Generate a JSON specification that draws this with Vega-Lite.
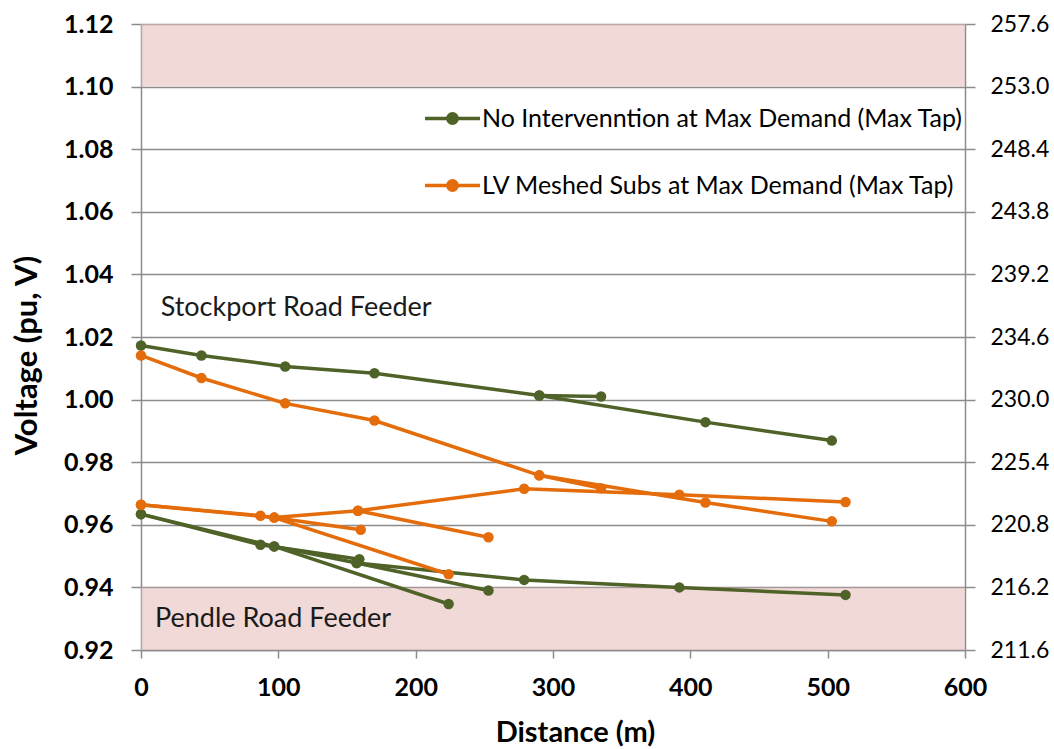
{
  "$schema": "https://vega.github.io/schema/vega-lite/v6.json",
  "width": 824,
  "height": 626,
  "autosize": {"type": "none"},
  "padding": {"left": 141, "top": 24, "right": 89, "bottom": 99},
  "background": "white",
  "config": {
    "view": {"stroke": null},
    "font": "Lato",
    "axis": {"labelFlush": false, "labelOverlap": false}
  },
  "datasets": {
    "bands": [
      {"lo": 1.10, "hi": 1.12},
      {"lo": 0.92, "hi": 0.94}
    ],
    "notes": [
      {"note": "Stockport Road Feeder"}
    ],
    "notes2": [
      {"note": "Pendle Road Feeder"}
    ],
    "lines": [
      {"series": "No Intervenntion at Max Demand (Max Tap)", "branch": "G1", "x": 0, "v": 1.0173},
      {"series": "No Intervenntion at Max Demand (Max Tap)", "branch": "G1", "x": 44, "v": 1.0141},
      {"series": "No Intervenntion at Max Demand (Max Tap)", "branch": "G1", "x": 105, "v": 1.0106},
      {"series": "No Intervenntion at Max Demand (Max Tap)", "branch": "G1", "x": 170, "v": 1.0084},
      {"series": "No Intervenntion at Max Demand (Max Tap)", "branch": "G1", "x": 290, "v": 1.0013},
      {"series": "No Intervenntion at Max Demand (Max Tap)", "branch": "G1", "x": 411, "v": 0.9928},
      {"series": "No Intervenntion at Max Demand (Max Tap)", "branch": "G1", "x": 503, "v": 0.9869},
      {"series": "No Intervenntion at Max Demand (Max Tap)", "branch": "G2", "x": 290, "v": 1.0013},
      {"series": "No Intervenntion at Max Demand (Max Tap)", "branch": "G2", "x": 335, "v": 1.0010},
      {"series": "No Intervenntion at Max Demand (Max Tap)", "branch": "G3", "x": 0, "v": 0.9634},
      {"series": "No Intervenntion at Max Demand (Max Tap)", "branch": "G3", "x": 87, "v": 0.9536},
      {"series": "No Intervenntion at Max Demand (Max Tap)", "branch": "G3", "x": 159, "v": 0.9490},
      {"series": "No Intervenntion at Max Demand (Max Tap)", "branch": "G4", "x": 0, "v": 0.9634},
      {"series": "No Intervenntion at Max Demand (Max Tap)", "branch": "G4", "x": 97, "v": 0.9531},
      {"series": "No Intervenntion at Max Demand (Max Tap)", "branch": "G4", "x": 157, "v": 0.9478},
      {"series": "No Intervenntion at Max Demand (Max Tap)", "branch": "G4", "x": 279, "v": 0.9424},
      {"series": "No Intervenntion at Max Demand (Max Tap)", "branch": "G4", "x": 392, "v": 0.9400},
      {"series": "No Intervenntion at Max Demand (Max Tap)", "branch": "G4", "x": 513, "v": 0.9376},
      {"series": "No Intervenntion at Max Demand (Max Tap)", "branch": "G5", "x": 97, "v": 0.9531},
      {"series": "No Intervenntion at Max Demand (Max Tap)", "branch": "G5", "x": 224, "v": 0.9347},
      {"series": "No Intervenntion at Max Demand (Max Tap)", "branch": "G6", "x": 157, "v": 0.9478},
      {"series": "No Intervenntion at Max Demand (Max Tap)", "branch": "G6", "x": 253, "v": 0.9390},
      {"series": "LV Meshed Subs at Max Demand (Max Tap)", "branch": "O1", "x": 0, "v": 1.0141},
      {"series": "LV Meshed Subs at Max Demand (Max Tap)", "branch": "O1", "x": 44, "v": 1.0069},
      {"series": "LV Meshed Subs at Max Demand (Max Tap)", "branch": "O1", "x": 105, "v": 0.9988},
      {"series": "LV Meshed Subs at Max Demand (Max Tap)", "branch": "O1", "x": 170, "v": 0.9933},
      {"series": "LV Meshed Subs at Max Demand (Max Tap)", "branch": "O1", "x": 290, "v": 0.9758},
      {"series": "LV Meshed Subs at Max Demand (Max Tap)", "branch": "O1", "x": 411, "v": 0.9671},
      {"series": "LV Meshed Subs at Max Demand (Max Tap)", "branch": "O1", "x": 503, "v": 0.9611},
      {"series": "LV Meshed Subs at Max Demand (Max Tap)", "branch": "O2", "x": 290, "v": 0.9758},
      {"series": "LV Meshed Subs at Max Demand (Max Tap)", "branch": "O2", "x": 335, "v": 0.9717},
      {"series": "LV Meshed Subs at Max Demand (Max Tap)", "branch": "O3", "x": 0, "v": 0.9664},
      {"series": "LV Meshed Subs at Max Demand (Max Tap)", "branch": "O3", "x": 87, "v": 0.9629},
      {"series": "LV Meshed Subs at Max Demand (Max Tap)", "branch": "O3", "x": 160, "v": 0.9584},
      {"series": "LV Meshed Subs at Max Demand (Max Tap)", "branch": "O4", "x": 0, "v": 0.9664},
      {"series": "LV Meshed Subs at Max Demand (Max Tap)", "branch": "O4", "x": 97, "v": 0.9623},
      {"series": "LV Meshed Subs at Max Demand (Max Tap)", "branch": "O4", "x": 158, "v": 0.9645},
      {"series": "LV Meshed Subs at Max Demand (Max Tap)", "branch": "O4", "x": 279, "v": 0.9715},
      {"series": "LV Meshed Subs at Max Demand (Max Tap)", "branch": "O4", "x": 392, "v": 0.9696},
      {"series": "LV Meshed Subs at Max Demand (Max Tap)", "branch": "O4", "x": 513, "v": 0.9673},
      {"series": "LV Meshed Subs at Max Demand (Max Tap)", "branch": "O5", "x": 97, "v": 0.9623},
      {"series": "LV Meshed Subs at Max Demand (Max Tap)", "branch": "O5", "x": 224, "v": 0.9442},
      {"series": "LV Meshed Subs at Max Demand (Max Tap)", "branch": "O6", "x": 158, "v": 0.9645},
      {"series": "LV Meshed Subs at Max Demand (Max Tap)", "branch": "O6", "x": 253, "v": 0.9560}
    ]
  },
  "layer": [
    {
      "data": {"name": "bands"},
      "mark": {"type": "rect", "fill": "#e6b9b8", "opacity": 0.55},
      "encoding": {
        "y": {
          "field": "lo", "type": "quantitative",
          "scale": {"domain": [0.92, 1.12], "zero": false, "nice": false},
          "axis": {
            "orient": "left",
            "values": [0.92, 0.94, 0.96, 0.98, 1.0, 1.02, 1.04, 1.06, 1.08, 1.1, 1.12],
            "format": ".2f",
            "labelFont": "Lato", "labelFontWeight": "bold", "labelFontSize": 25, "labelColor": "#000",
            "labelPadding": 18,
            "tickColor": "#8c8c8c", "tickSize": 10, "tickWidth": 1.5,
            "domainColor": "#8c8c8c", "domainWidth": 1.5,
            "grid": true, "gridColor": "#8c8c8c", "gridWidth": 1.5,
            "title": "Voltage (pu, V)",
            "titleFont": "Lato", "titleFontSize": 31, "titleFontWeight": "bold", "titleColor": "#000",
            "titleAngle": -90, "titleAlign": "center", "titleBaseline": "middle",
            "titleX": -114, "titleY": 331
          }
        },
        "y2": {"field": "hi"}
      }
    },
    {
      "data": {"name": "lines"},
      "transform": [{"filter": "datum.branch[0] == 'G'"}],
      "mark": {"type": "line", "strokeWidth": 3.5, "point": {"filled": true, "size": 110}},
      "encoding": {
        "x": {
          "field": "x", "type": "quantitative",
          "scale": {"domain": [0, 600], "nice": false, "zero": false},
          "axis": {
            "values": [0, 100, 200, 300, 400, 500, 600],
            "labelFont": "Lato", "labelFontWeight": "bold", "labelFontSize": 25, "labelColor": "#000",
            "labelPadding": 17,
            "tickColor": "#8c8c8c", "tickSize": 8, "tickWidth": 1.5,
            "domainColor": "#8c8c8c", "domainWidth": 1.5,
            "grid": false,
            "title": "Distance (m)",
            "titleFont": "Lato", "titleFontSize": 29, "titleFontWeight": "bold", "titleColor": "#000",
            "titleX": 434, "titleAlign": "center", "titlePadding": 18
          }
        },
        "y": {
          "field": "v", "type": "quantitative",
          "scale": {"domain": [0.92, 1.12], "zero": false, "nice": false},
          "axis": null
        },
        "detail": {"field": "branch"},
        "color": {
          "field": "series", "type": "nominal",
          "scale": {
            "domain": ["No Intervenntion at Max Demand (Max Tap)", "LV Meshed Subs at Max Demand (Max Tap)"],
            "range": ["#4f6228", "#e46c0a"]
          },
          "legend": {
            "title": null,
            "orient": "none",
            "legendX": 282,
            "legendY": 65,
            "padding": 0,
            "symbolType": "M-1,0H1M0.17,0A0.17,0.17,0,1,1,-0.17,0A0.17,0.17,0,1,1,0.17,0Z",
            "symbolSize": 3025,
            "symbolStrokeWidth": 3.5,
            "labelFont": "Lato", "labelFontSize": 25, "labelColor": "#000",
            "labelOffset": 0,
            "labelLimit": 700,
            "rowPadding": 24,
            "encode": {
              "symbols": {
                "update": {
                  "fill": {"scale": "color", "field": "value"},
                  "stroke": {"scale": "color", "field": "value"},
                  "opacity": {"value": 1}
                }
              }
            }
          }
        }
      }
    },
    {
      "data": {"name": "lines"},
      "transform": [{"filter": "datum.branch[0] == 'O'"}],
      "mark": {"type": "line", "strokeWidth": 3.5, "point": {"filled": true, "size": 110}},
      "encoding": {
        "x": {
          "field": "x", "type": "quantitative",
          "scale": {"domain": [0, 600], "nice": false, "zero": false}
        },
        "y": {
          "field": "v", "type": "quantitative",
          "scale": {"domain": [0.92, 1.12], "zero": false, "nice": false},
          "axis": {
            "orient": "right",
            "values": [0.92, 0.94, 0.96, 0.98, 1.0, 1.02, 1.04, 1.06, 1.08, 1.1, 1.12],
            "labelExpr": "format(datum.value * 230, '.1f')",
            "labelFont": "Lato", "labelFontSize": 23, "labelColor": "#000",
            "labelPadding": 15,
            "tickColor": "#8c8c8c", "tickSize": 10, "tickWidth": 1.5,
            "domainColor": "#8c8c8c", "domainWidth": 1.5,
            "grid": false,
            "title": null
          }
        },
        "detail": {"field": "branch"},
        "color": {
          "field": "series", "type": "nominal",
          "scale": {
            "domain": ["No Intervenntion at Max Demand (Max Tap)", "LV Meshed Subs at Max Demand (Max Tap)"],
            "range": ["#4f6228", "#e46c0a"]
          }
        }
      }
    },
    {
      "data": {"name": "notes"},
      "mark": {"type": "text", "align": "left", "baseline": "alphabetic", "font": "Lato", "fontSize": 27, "color": "#1a1a1a"},
      "encoding": {
        "text": {"field": "note"},
        "x": {"datum": 14.3, "type": "quantitative", "scale": {"domain": [0, 600], "nice": false, "zero": false}},
        "y": {"datum": 1.0268, "type": "quantitative", "scale": {"domain": [0.92, 1.12], "zero": false, "nice": false}, "axis": null}
      }
    },
    {
      "data": {"name": "notes2"},
      "mark": {"type": "text", "align": "left", "baseline": "alphabetic", "font": "Lato", "fontSize": 27, "color": "#1a1a1a"},
      "encoding": {
        "text": {"field": "note"},
        "x": {"datum": 10.2, "type": "quantitative", "scale": {"domain": [0, 600], "nice": false, "zero": false}},
        "y": {"datum": 0.9273, "type": "quantitative", "scale": {"domain": [0.92, 1.12], "zero": false, "nice": false}, "axis": null}
      }
    }
  ],
  "resolve": {"axis": {"y": "independent"}}
}
